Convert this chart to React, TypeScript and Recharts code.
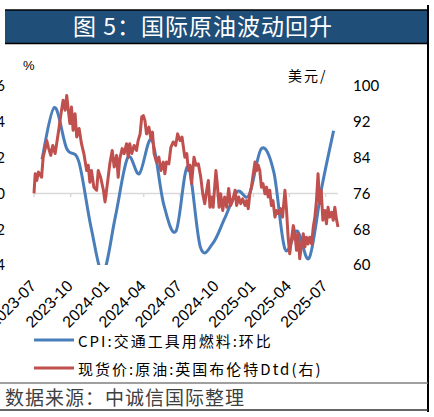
import React from 'react';
import { LineChart, Line, XAxis, YAxis, ReferenceLine, Legend } from 'recharts';

// x axis: days since 2023-07-01
const TICK_MONTHS = ['2023-07', '2023-10', '2024-01', '2024-04', '2024-07', '2024-10', '2025-01', '2025-04', '2025-07'];
const LEFT_TICKS = [-4, -2, 0, 2, 4, 6];
const RIGHT_TICKS = [60, 68, 76, 84, 92, 100];

// CPI: transport fuel, month on month (%)
const CPI_MONTHS = [
  '2023-07', '2023-08', '2023-09', '2023-10', '2023-11', '2023-12',
  '2024-01', '2024-02', '2024-03', '2024-04', '2024-05', '2024-06',
  '2024-07', '2024-08', '2024-09', '2024-10', '2024-11', '2024-12',
  '2025-01', '2025-02', '2025-03', '2025-04', '2025-05', '2025-06', '2025-07',
];
const CPI_VALUES = [
  1.9, 4.8, 2.5, 1.8, -1.9, -4.4,
  -1.3, 2.0, 1.1, 3.0, -0.6, -2.1,
  1.5, -3.0, -2.8, -1.4, 0.1, -0.1,
  2.5, 1.2, -3.1, -2.1, -3.6, 0.3, 3.5,
];

// Dated Brent spot, USD/bbl: [day since 2023-07-01, price]
const BRENT: [number, number][] = [
  [0, 76.0], [3, 80.4], [7, 78.9], [11, 80.8], [19, 79.6], [23, 84.1], [28, 86.0], [32, 87.8],
  [36, 86.3], [42, 84.5], [47, 86.7], [53, 84.9], [58, 87.8], [63, 90.8], [69, 94.6], [73, 96.8],
  [78, 94.6], [82, 97.9], [86, 94.6], [90, 91.6], [94, 95.3], [98, 90.1], [103, 93.8], [107, 88.6],
  [113, 90.5], [119, 87.1], [125, 84.9], [132, 81.1], [136, 82.3], [140, 78.5], [144, 81.1], [150, 77.4],
  [157, 76.7], [161, 81.1], [167, 79.6], [174, 76.7], [178, 74.1], [185, 78.9], [190, 82.6], [196, 85.6],
  [201, 81.9], [207, 84.5], [211, 79.6], [215, 83.7], [221, 86.0], [226, 84.9], [232, 87.1], [236, 84.1],
  [240, 87.1], [245, 84.9], [251, 86.7], [257, 85.6], [261, 87.8], [266, 89.3], [270, 93.1], [274, 93.4],
  [278, 92.3], [282, 89.3], [288, 90.8], [293, 88.2], [297, 89.7], [301, 84.9], [307, 83.0], [313, 84.1],
  [318, 81.1], [324, 83.0], [328, 80.4], [332, 83.0], [338, 82.6], [343, 86.3], [349, 87.5], [355, 86.7],
  [360, 89.3], [366, 87.8], [371, 88.6], [378, 84.1], [383, 84.9], [387, 81.1], [391, 82.3], [395, 78.2],
  [401, 84.1], [406, 82.3], [412, 82.6], [418, 79.6], [423, 75.9], [428, 73.7], [433, 76.7], [437, 78.9],
  [441, 72.9], [445, 75.2], [449, 72.9], [456, 81.1], [459, 78.5], [464, 72.9], [468, 75.9], [473, 72.2],
  [478, 75.2], [483, 72.9], [488, 77.1], [493, 73.3], [498, 74.4], [504, 76.7], [508, 73.3], [513, 75.2],
  [518, 73.7], [523, 74.8], [529, 73.3], [533, 74.4], [537, 72.6], [541, 75.9], [545, 77.4], [549, 80.0],
  [554, 83.0], [558, 81.1], [562, 82.3], [566, 81.1], [570, 77.4], [574, 78.2], [579, 75.9], [583, 77.4],
  [587, 75.2], [591, 76.7], [595, 73.3], [599, 74.4], [604, 70.7], [608, 72.2], [612, 71.5], [618, 72.6],
  [623, 70.7], [629, 76.7], [633, 72.2], [637, 66.2], [641, 62.5], [646, 66.2], [650, 68.8], [654, 67.0],
  [658, 63.3], [662, 67.0], [666, 61.4], [671, 64.7], [675, 67.0], [679, 64.0], [683, 66.2], [687, 64.7],
  [691, 66.2], [696, 64.7], [700, 68.5], [704, 70.7], [708, 74.4], [712, 80.4], [716, 73.7], [720, 76.7],
  [724, 70.0], [729, 72.2], [733, 69.2], [737, 72.9], [741, 70.7], [746, 71.8], [750, 70.0], [754, 72.9],
  [758, 70.3], [762, 68.5],
];

const BLUE = '#4A7EBB';
const RED = '#C0504D';
const START = Date.UTC(2023, 6, 1);
const DAY_MS = 86400000;
const CPI_DAY = 21; // monthly points sit late in the month on the daily axis

const dayOf = (ym: string, d = 1) => {
  const [y, m] = ym.split('-').map(Number);
  return Math.round((Date.UTC(y, m - 1, d) - START) / DAY_MS);
};

const cpiData = CPI_MONTHS.map((m, i) => ({ day: dayOf(m, CPI_DAY), v: CPI_VALUES[i] }));
const brentData = BRENT.map(([day, v]) => ({ day, v }));
const tickDays = TICK_MONTHS.map((m) => dayOf(m));

// Excel-like smoothed line (Catmull-Rom via cubic beziers)
const excelSmooth = (context: any) => {
  let pts: number[][] = [];
  return {
    areaStart() {},
    areaEnd() {},
    lineStart() { pts = []; },
    point(x: number, y: number) { pts.push([+x, +y]); },
    lineEnd() {
      if (!pts.length) return;
      context.moveTo(pts[0][0], pts[0][1]);
      for (let i = 0; i < pts.length - 1; i++) {
        const p0 = pts[i - 1] || pts[i];
        const p1 = pts[i];
        const p2 = pts[i + 1];
        const p3 = pts[i + 2] || p2;
        context.bezierCurveTo(
          p1[0] + (p2[0] - p0[0]) / 6, p1[1] + (p2[1] - p0[1]) / 6,
          p2[0] - (p3[0] - p1[0]) / 6, p2[1] - (p3[1] - p1[1]) / 6,
          p2[0], p2[1]
        );
      }
    },
  };
};

const monthLabel = (day: number) => TICK_MONTHS[tickDays.indexOf(day)] ?? '';

const RotatedTick = ({ x, y, payload }: any) => (
  <g transform={`translate(${x + 3},${y})`}>
    <text
      textAnchor="end"
      transform="rotate(-45)"
      fontFamily="'Liberation Sans', Arial, sans-serif"
      fontSize={16}
      fill="#000"
    >
      {monthLabel(payload.value)}
    </text>
  </g>
);

const legendFont = "'Noto Sans CJK SC', sans-serif";

const LegendContent = ({ payload }: any) => (
  <div>
    {(payload || []).map((p: any) => (
      <div key={p.value} style={{ display: 'flex', alignItems: 'center', height: 18, marginBottom: 10 }}>
        <svg width={40} height={4} style={{ display: 'block' }}>
          <line x1={0} y1={2} x2={40} y2={2} stroke={p.color} strokeWidth={3} />
        </svg>
        <span style={{ marginLeft: 4, fontFamily: legendFont, fontSize: 15, letterSpacing: 2, color: '#000', whiteSpace: 'nowrap' }}>
          {p.value}
        </span>
      </div>
    ))}
  </div>
);

export default function App() {
  return (
    <div style={{ position: 'absolute', left: 0, top: 0, width: 434, height: 417, overflow: 'hidden', background: '#fff' }}>
      <svg width={434} height={417} style={{ position: 'absolute', left: 0, top: 0 }}>
        <rect x={5} y={10} width={423} height={33} fill="#1F4E79" />
        <line x1={5} y1={10} x2={428} y2={10} stroke="#000" strokeWidth={1.5} />
        <line x1={5} y1={43.5} x2={428} y2={43.5} stroke="#000" strokeWidth={1.5} />
        <line x1={428} y1={5} x2={428} y2={412} stroke="#000" strokeWidth={2} />
        <text x={73} y={35} fill="#fff" fontFamily={legendFont} fontSize={23} letterSpacing={1}>
          图 5：国际原油波动回升
        </text>
        <text x={23} y={70} fontFamily="'Liberation Sans', Arial, sans-serif" fontSize={13} fill="#000">%</text>
        <text x={288} y={81} fontFamily={legendFont} fontSize={14} letterSpacing={2} fill="#000">美元/</text>
        <line x1={0} y1={383} x2={428} y2={383} stroke="#7F7F7F" strokeWidth={1.5} />
        <text x={5} y={405} fontFamily={legendFont} fontSize={19} letterSpacing={1} fill="#404040">
          数据来源：中诚信国际整理
        </text>
        <line x1={0} y1={410} x2={428} y2={410} stroke="#333" strokeWidth={1.5} />
      </svg>
      <div style={{ position: 'absolute', left: 0, top: 0 }}>
        <LineChart width={434} height={417} margin={{ top: 86, right: 0, bottom: 92, left: 0 }}>
          <XAxis
            dataKey="day"
            type="number"
            domain={[0, 762]}
            ticks={tickDays}
            interval={0}
            axisLine={false}
            tickLine={false}
            tickSize={0}
            tickMargin={22}
            height={60}
            tick={<RotatedTick />}
          />
          <YAxis
            yAxisId="left"
            orientation="left"
            domain={[-4, 6]}
            ticks={LEFT_TICKS}
            allowDataOverflow
            axisLine={false}
            tickLine={false}
            tickSize={0}
            tickMargin={29}
            width={34}
            tick={{ fill: '#000', fontSize: 15, fontFamily: 'Lato, sans-serif' }}
          />
          <YAxis
            yAxisId="right"
            orientation="right"
            domain={[60, 100]}
            ticks={RIGHT_TICKS}
            allowDataOverflow
            axisLine={false}
            tickLine={false}
            tickSize={0}
            tickMargin={15}
            width={96}
            tick={{ fill: '#000', fontSize: 15, fontFamily: 'Lato, sans-serif', textAnchor: 'start' }}
          />
          <ReferenceLine yAxisId="left" y={0} stroke="#D9D9D9" strokeWidth={1.5} />
          {tickDays.map((d) => (
            <ReferenceLine
              key={d}
              yAxisId="left"
              segment={[{ x: d, y: 0 }, { x: d, y: -0.2 }]}
              stroke="#D9D9D9"
              strokeWidth={1.5}
            />
          ))}
          <Line
            yAxisId="left"
            data={cpiData}
            dataKey="v"
            name="CPI:交通工具用燃料:环比"
            type={excelSmooth as any}
            stroke={BLUE}
            strokeWidth={3}
            dot={false}
            activeDot={false}
            isAnimationActive={false}
          />
          <Line
            yAxisId="right"
            data={brentData}
            dataKey="v"
            name="现货价:原油:英国布伦特Dtd(右)"
            type="linear"
            stroke={RED}
            strokeWidth={3}
            strokeLinejoin="round"
            dot={false}
            activeDot={false}
            isAnimationActive={false}
          />
          <Legend
            layout="vertical"
            align="center"
            verticalAlign="middle"
            wrapperStyle={{ left: 34, top: 331, width: 380 }}
            payload={[
              { value: 'CPI:交通工具用燃料:环比', type: 'line', color: BLUE, id: 'cpi' },
              { value: '现货价:原油:英国布伦特Dtd(右)', type: 'line', color: RED, id: 'brent' },
            ]}
            content={<LegendContent />}
          />
        </LineChart>
      </div>
    </div>
  );
}
